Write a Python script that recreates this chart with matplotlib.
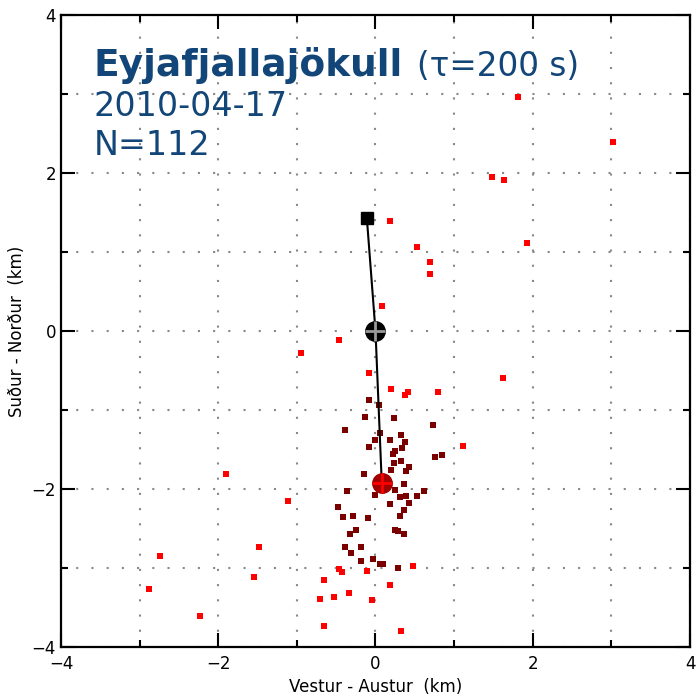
import numpy as np
import matplotlib
matplotlib.use("Agg")
import matplotlib.pyplot as plt
from matplotlib.ticker import MultipleLocator

# outlying events (red)
far_x = [1.81, 3.02, 1.48, 1.63, 1.93, 0.18, 0.53, 0.69, 0.69, 0.08, -0.95, -0.47, 1.62,
         -0.08, 0.20, 0.41, 0.38, 0.80, 1.11, -1.90, -1.11,
         -2.74, -1.48, -2.88, -1.55, -2.23, -0.47, -0.42, -0.11, 0.48, -0.65, 0.19,
         -0.34, -0.53, -0.70, -0.04, -0.65, 0.32]
far_y = [2.96, 2.39, 1.95, 1.91, 1.11, 1.39, 1.06, 0.87, 0.72, 0.32, -0.28, -0.11, -0.59,
         -0.53, -0.74, -0.77, -0.81, -0.77, -1.46, -1.81, -2.15,
         -2.85, -2.73, -3.27, -3.11, -3.61, -3.01, -3.05, -3.04, -2.97, -3.15, -3.22,
         -3.32, -3.37, -3.39, -3.41, -3.73, -3.80]

# events close to the centroid (dark red)
near_x = [-0.08, 0.05, -0.13, 0.24, 0.73, -0.39, 0.06, 0.32, -0.01, 0.19, 0.37, -0.08,
          0.34, 0.25, 0.22, 0.32, 0.84, 0.76, 0.24, 0.43, 0.20, 0.39, -0.15, 0.36,
          -0.36, 0.25, 0.62, 0.00, 0.31, 0.39, 0.53, -0.48, 0.18, 0.43, 0.36, -0.41,
          -0.28, -0.10, 0.31, -0.32, -0.25, 0.25, 0.29, 0.36, -0.39, -0.18, -0.31,
          -0.18, -0.03, 0.06, 0.09, 0.29]
near_y = [-0.87, -0.94, -1.09, -1.10, -1.19, -1.25, -1.29, -1.32, -1.38, -1.38, -1.41, -1.47,
          -1.48, -1.52, -1.56, -1.65, -1.57, -1.60, -1.67, -1.72, -1.76, -1.77, -1.81, -1.94,
          -2.03, -2.01, -2.03, -2.08, -2.10, -2.09, -2.09, -2.23, -2.19, -2.18, -2.27, -2.35,
          -2.34, -2.37, -2.34, -2.57, -2.52, -2.52, -2.53, -2.57, -2.73, -2.73, -2.81,
          -2.91, -2.89, -2.95, -2.95, -3.00]

# start point, reference point, centroid
track_x = [-0.11, 0.0, 0.08]
track_y = [1.43, 0.0, -1.93]

title_color = '#124678'

fig = plt.figure(figsize=(6.96, 6.97), dpi=100)
ax = fig.add_axes([0.0876, 0.0717, 0.9038, 0.9068])

ax.set_xlim(-4, 4)
ax.set_ylim(-4, 4)
ax.xaxis.set_major_locator(MultipleLocator(2))
ax.xaxis.set_minor_locator(MultipleLocator(1))
ax.yaxis.set_major_locator(MultipleLocator(2))
ax.yaxis.set_minor_locator(MultipleLocator(1))
ax.tick_params(which='both', direction='in', top=True, right=True, width=1.5, labelsize=12)
ax.tick_params(which='major', length=10)
ax.tick_params(which='minor', length=5)
ax.tick_params(axis='x', pad=6)
for s in ax.spines.values():
    s.set_linewidth(1.6)
ax.grid(which='both', color='#888888', linestyle=(0, (1, 6.3)), linewidth=1.5)
ax.set_axisbelow(True)

ax.scatter(far_x, far_y, marker='s', s=16, color='#ff0000', linewidths=0, zorder=3)
ax.scatter(near_x, near_y, marker='s', s=22, color='#7a0000', linewidths=0, zorder=3)

ax.plot(track_x, track_y, color='black', linewidth=1.5, zorder=4)
ax.plot(track_x[0], track_y[0], marker='s', markersize=8, color='black', zorder=5)
ax.plot(track_x[1], track_y[1], marker='o', markersize=14, color='black', zorder=5)
ax.plot(track_x[1], track_y[1], marker='+', markersize=14, mew=2, color='#999999', zorder=6)
ax.plot(track_x[2], track_y[2], marker='o', markersize=14, color='#a00000', zorder=5)
ax.plot(track_x[2], track_y[2], marker='+', markersize=14, mew=2, color='#ff0000', zorder=6)

ax.set_xlabel('Vestur - Austur  (km)', fontsize=12, labelpad=3)
ax.set_ylabel('Suður - Norður  (km)', fontsize=12, labelpad=4)

ax.text(0.052, 0.903, 'Eyjafjallajökull', transform=ax.transAxes, fontsize=27,
        fontweight='bold', color=title_color, va='baseline')
ax.text(0.566, 0.903, '(τ=200 s)', transform=ax.transAxes, fontsize=23.5,
        color=title_color, va='baseline')
ax.text(0.052, 0.840, '2010-04-17', transform=ax.transAxes, fontsize=24,
        color=title_color, va='baseline')
ax.text(0.052, 0.779, 'N=112', transform=ax.transAxes, fontsize=24,
        color=title_color, va='baseline')

fig.savefig('out.png', dpi=100)
